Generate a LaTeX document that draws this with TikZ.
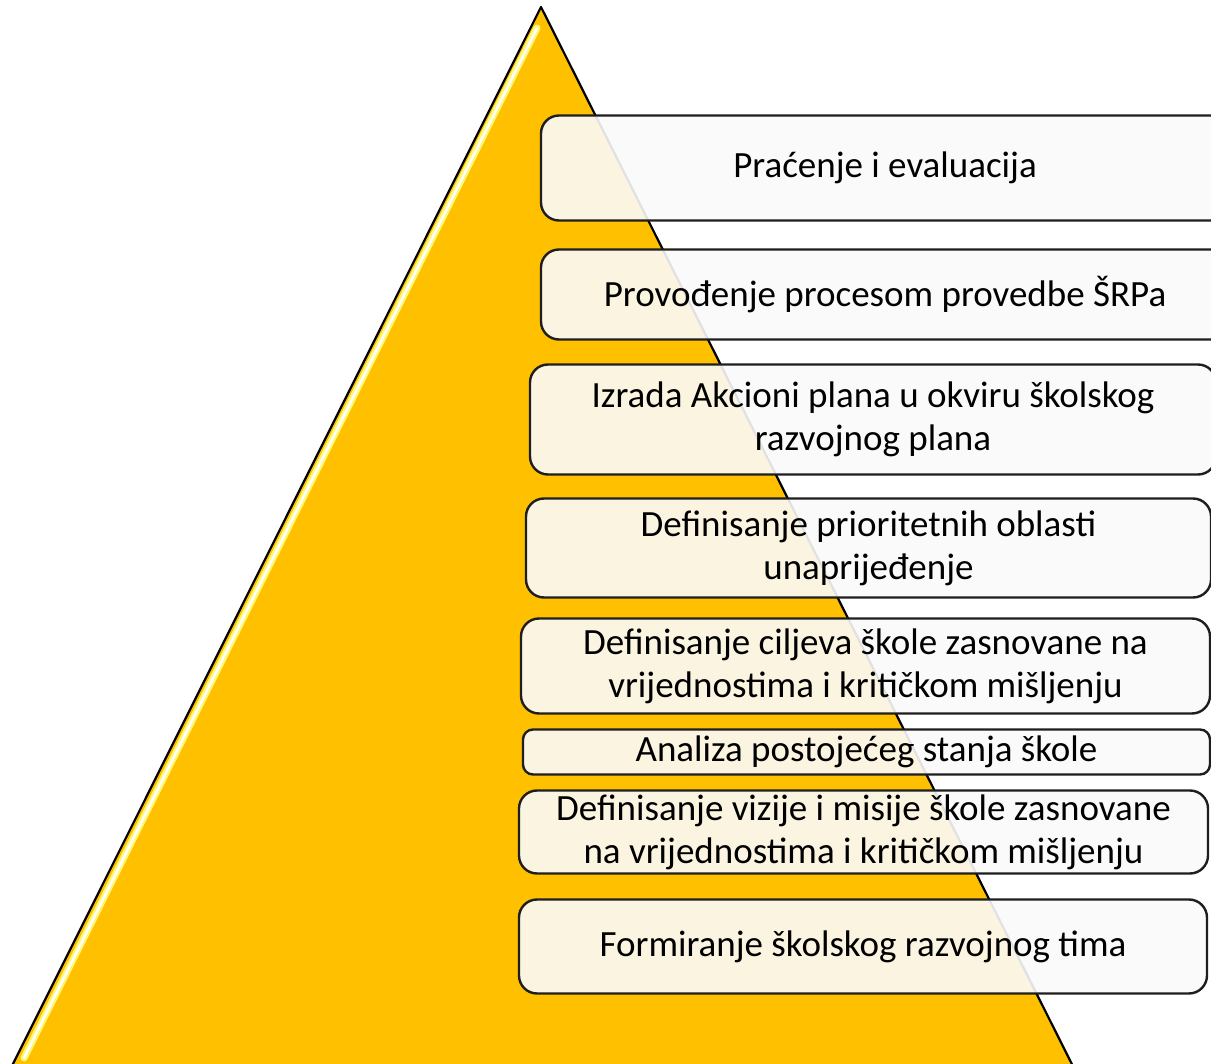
\documentclass[tikz,border=0pt]{standalone}
\usepackage{fontspec}
\setmainfont{Carlito}
\usepackage{tikz}
\definecolor{gold}{HTML}{FFC000}
\definecolor{edge}{HTML}{1E1E1E}
\definecolor{boxfill}{HTML}{FAFAFA}
\tikzset{
  stepbox/.style={draw=edge, line width=2.4pt, rounded corners=18pt, fill=boxfill,
    fill opacity=0.9, text opacity=1, inner sep=0pt, align=center,
    font=\fontsize{37}{43}\selectfont},
}
\begin{document}
\begin{tikzpicture}[x=1pt, y=-1pt]
  \useasboundingbox (0, 0) rectangle (1211, 1064);
  \clip (0, 0) rectangle (1211, 1064);
  \coordinate (T) at (541, 7);
  \coordinate (L) at (-20, 1130);
  \coordinate (R) at (1105, 1130);
  \draw [fill=gold, draw=black, line width=2.2pt, line join=round] (T) -- (L) -- (R) -- cycle;
  \draw [line width=7pt, yellow!55!white, line cap=round] (537, 28) -- (24, 1058);
  \draw [line width=2.5pt, white, line cap=round] (537, 28) -- (24, 1058);
  \node [stepbox, minimum width=688, minimum height=105] (AA) at (885, 168) {Praćenje i evaluacija};
  \node [stepbox, minimum width=688, minimum height=90] (AB) at (885, 294.5) {Provođenje procesom provedbe ŠRPa};
  \node [stepbox, minimum width=686, minimum height=110] (AC) at (873, 419.5) {Izrada Akcioni plana u okviru školskog\\razvojnog plana};
  \node [stepbox, minimum width=685, minimum height=99] (AD) at (868.5, 548) {Definisanje prioritetnih oblasti\\unaprijeđenje};
  \node [stepbox, minimum width=689, minimum height=95] (AE) at (865.5, 666) {Definisanje ciljeva škole zasnovane na\\vrijednostima i kritičkom mišljenju};
  \node [stepbox, minimum width=687, minimum height=45, rounded corners=10pt] (AF) at (866.5, 752) {Analiza postojećeg stanja škole};
  \node [stepbox, minimum width=689, minimum height=83] (AG) at (863.5, 832) {Definisanje vizije i misije škole zasnovane\\na vrijednostima i kritičkom mišljenju};
  \node [stepbox, minimum width=688, minimum height=94] (AH) at (863, 946.5) {Formiranje školskog razvojnog tima};
\end{tikzpicture}
\end{document}
